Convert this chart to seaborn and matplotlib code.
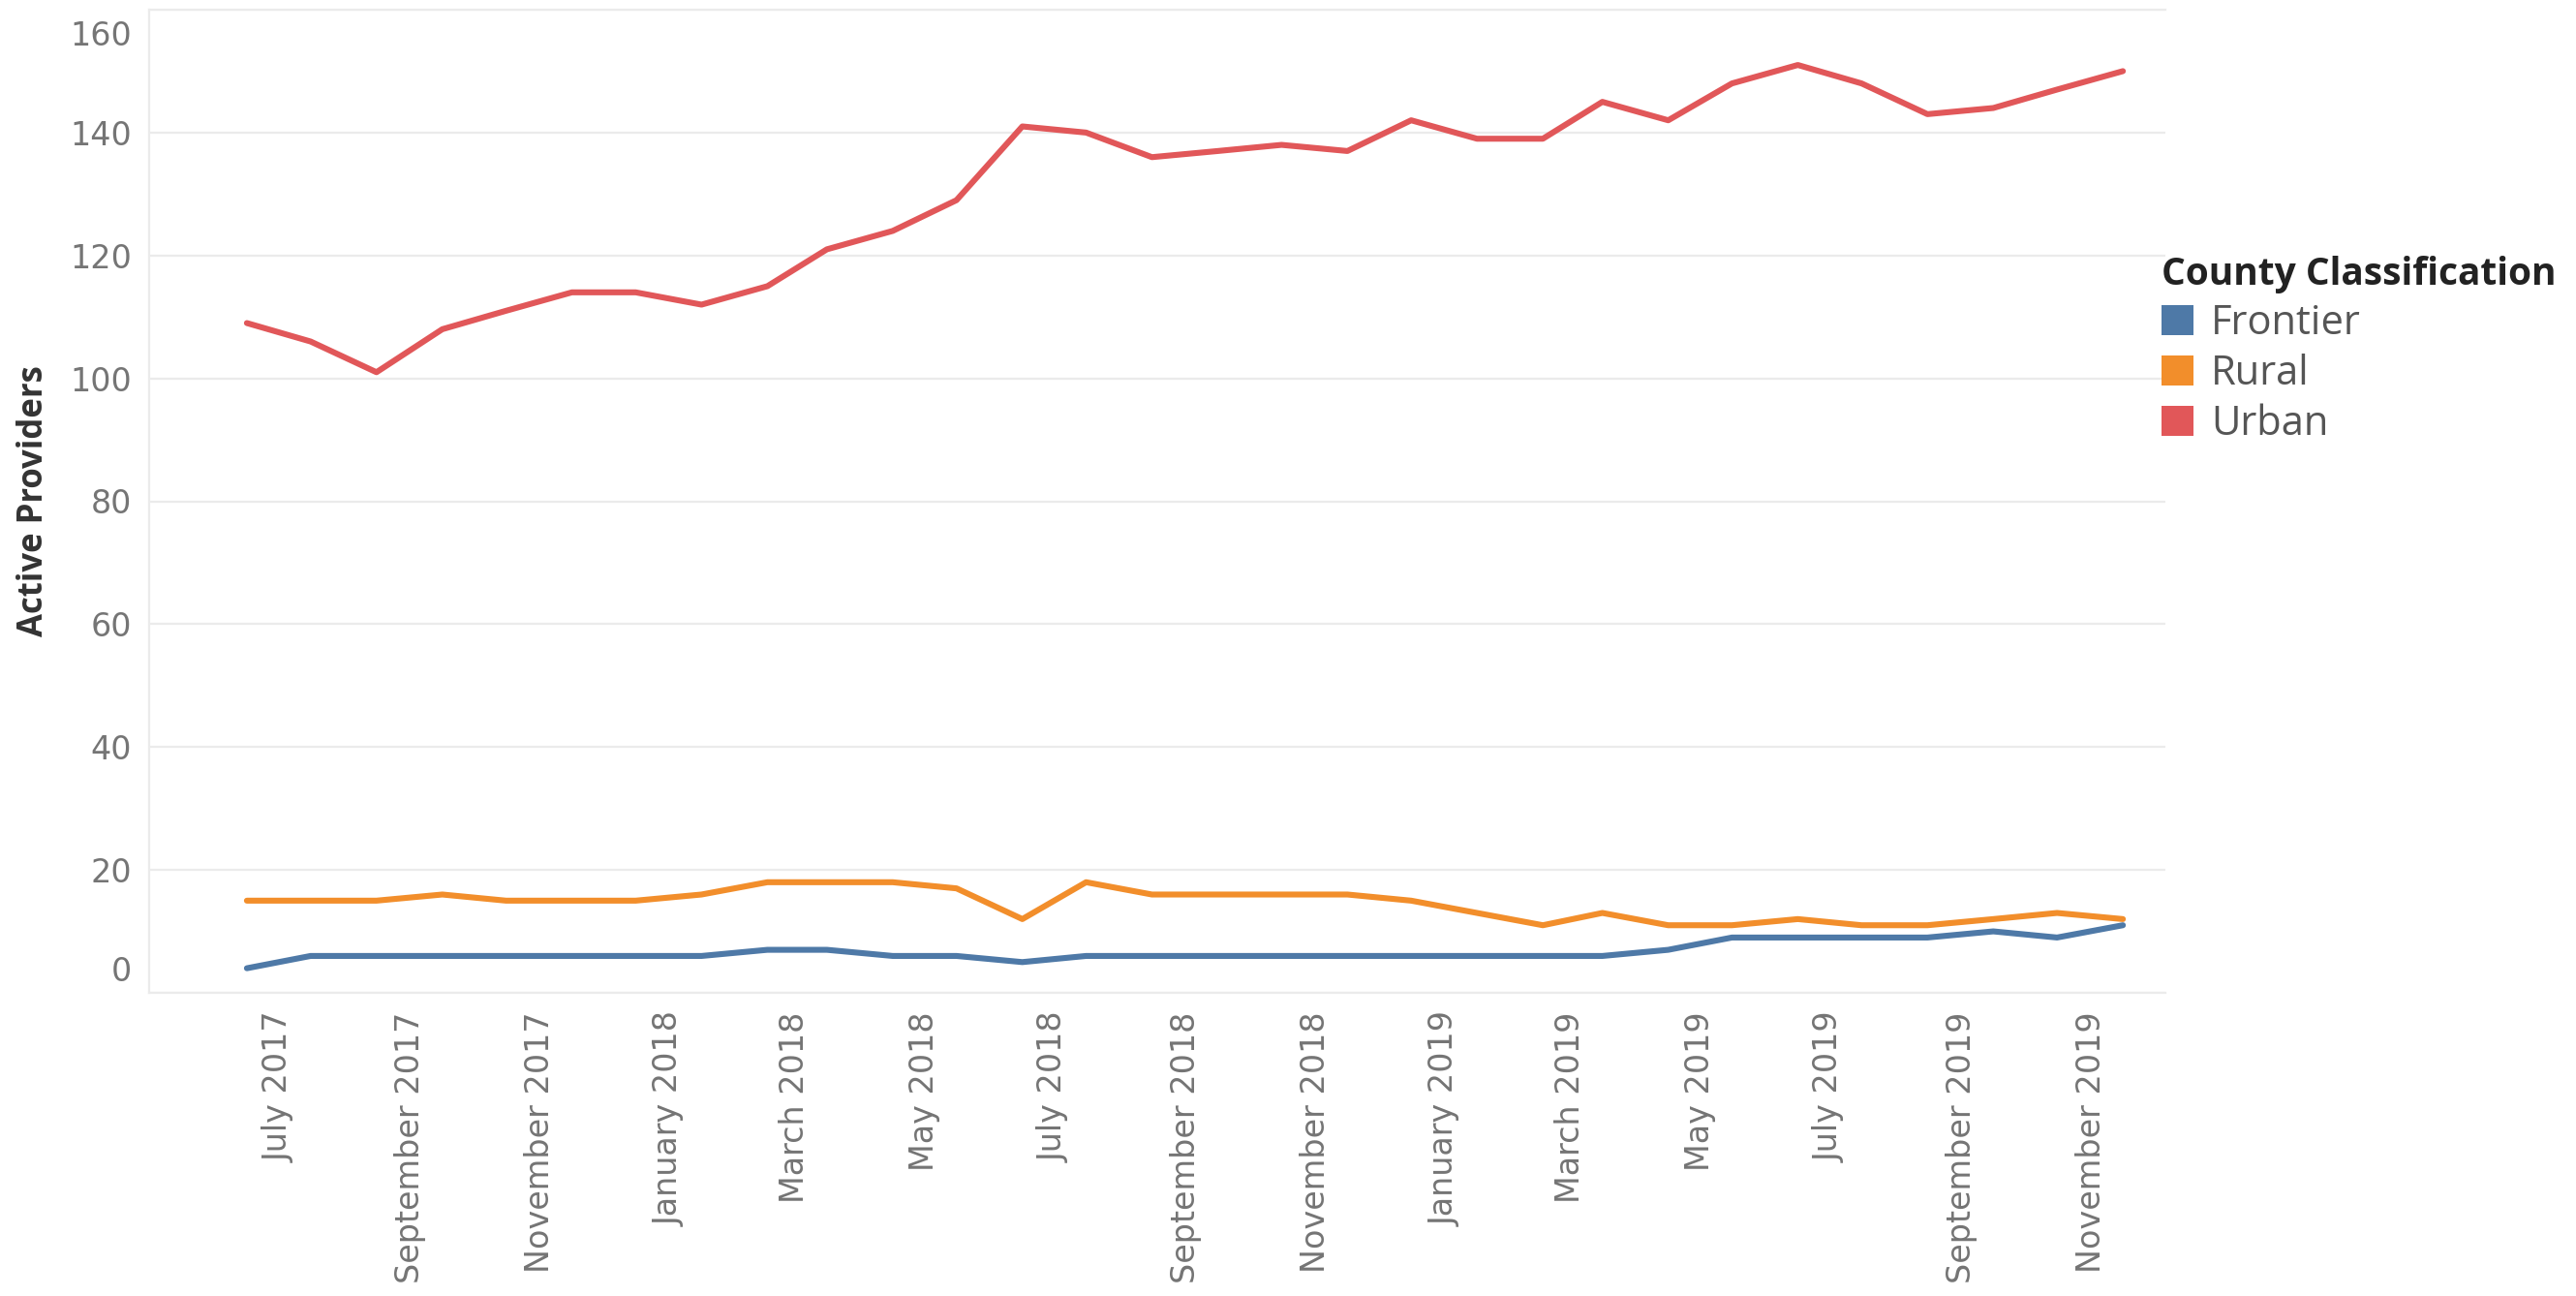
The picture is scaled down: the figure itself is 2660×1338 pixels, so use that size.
import numpy as np
import pandas as pd
import matplotlib
matplotlib.use("Agg")
import matplotlib.pyplot as plt
from matplotlib.patches import Patch
from matplotlib.transforms import ScaledTranslation
import seaborn as sns

# ---------------- data ----------------
months = pd.date_range("2017-06-01", "2019-11-01", freq="MS")
frontier = [4, 6, 6, 6, 6, 6, 6, 6, 7, 7, 6, 6, 5, 6, 6, 6, 6, 6, 6, 6,
            6, 6, 7, 9, 9, 9, 9, 10, 9, 11]
rural = [15, 15, 15, 16, 15, 15, 15, 16, 18, 18, 18, 17, 12, 18, 16, 16, 16, 16, 15, 13,
         11, 13, 11, 11, 12, 11, 11, 12, 13, 12]
urban = [109, 106, 101, 108, 111, 114, 114, 112, 115, 121, 124, 129, 141, 140, 136, 137,
         138, 137, 142, 139, 139, 145, 142, 148, 151, 148, 143, 144, 147, 150]
categories = ["Frontier", "Rural", "Urban"]
colors = ["#4E79A7", "#F28E2B", "#E15759"]
y_ticks = [0, 20, 40, 60, 80, 100, 120, 140, 160]
x_tick_dates = pd.date_range("2017-07-01", "2019-11-01", freq="2MS")
x_tick_labels = [d.strftime("%B %Y") for d in x_tick_dates]

df = pd.DataFrame({
    "Month": months + pd.Timedelta(days=15),
    "Frontier": frontier,
    "Rural": rural,
    "Urban": urban,
}).melt(id_vars="Month", var_name="County Classification", value_name="Active Providers")

# ---------------- style ----------------
sns.set_theme(style="white")
plt.rcParams["font.family"] = ["DejaVu Sans"]

W, H = 2660, 1338
fig = plt.figure(figsize=(W / 100, H / 100), dpi=100)
left, right, top, bottom = 154, 2236, 10, 1025
ax = fig.add_axes([left / W, 1 - bottom / H, (right - left) / W, (bottom - top) / H])

sns.lineplot(data=df, x="Month", y="Active Providers", hue="County Classification",
             hue_order=categories, palette=dict(zip(categories, colors)),
             linewidth=4.4, ax=ax, legend=False)

ax.set_xlim(pd.Timestamp("2017-05-01"), pd.Timestamp("2019-12-06"))
ax.set_ylim(0, 160)

ax.set_yticks(y_ticks, labels=[str(v) for v in y_ticks])
ax.set_xticks(x_tick_dates, labels=x_tick_labels)

grid_c = "#ebebeb"
ax.yaxis.grid(True, color=grid_c, linewidth=1.6)
ax.xaxis.grid(False)
for s in ["left", "bottom", "top"]:
    ax.spines[s].set_visible(True)
    ax.spines[s].set_color(grid_c)
    ax.spines[s].set_linewidth(1.6)
ax.spines["right"].set_visible(False)

ax.tick_params(axis="y", length=0, pad=13, labelsize=24, labelcolor="#757575")
ax.tick_params(axis="x", length=5, width=1.2, color="#e4e4e4", pad=9,
               labelsize=24, labelcolor="#747474", rotation=90)
for lab in ax.get_xticklabels():
    lab.set_va("top")
    lab.set_ha("center")

ax.set_xlabel("")
ax.set_ylabel("Active Providers", fontsize=25, fontweight="bold", color="#333333",
              family=["Open Sans", "DejaVu Sans"], labelpad=14)

for lab in ax.get_yticklabels():
    t = lab.get_text()
    if t == "0":
        lab.set_transform(lab.get_transform() + ScaledTranslation(0, 0.25, fig.dpi_scale_trans))
    elif t == "160":
        lab.set_transform(lab.get_transform() + ScaledTranslation(0, -0.24, fig.dpi_scale_trans))

handles = [Patch(facecolor=c, edgecolor="none", label=n) for n, c in zip(categories, colors)]
leg = fig.legend(handles=handles, title="County Classification", loc="upper left",
                 bbox_to_anchor=(2232 / W, 1 - 264 / H), frameon=False, borderpad=0,
                 prop={"family": ["Open Sans", "DejaVu Sans"], "size": 30},
                 title_fontproperties={"family": ["Open Sans", "DejaVu Sans"], "size": 28,
                                       "weight": "bold"},
                 handlelength=0.78, handleheight=0.78, handletextpad=0.45,
                 labelspacing=0.24, alignment="left", borderaxespad=0)
for t in leg.get_texts():
    t.set_color("#555555")
leg.get_title().set_color("#222222")

fig.savefig("out.png", dpi=100, facecolor="white")
